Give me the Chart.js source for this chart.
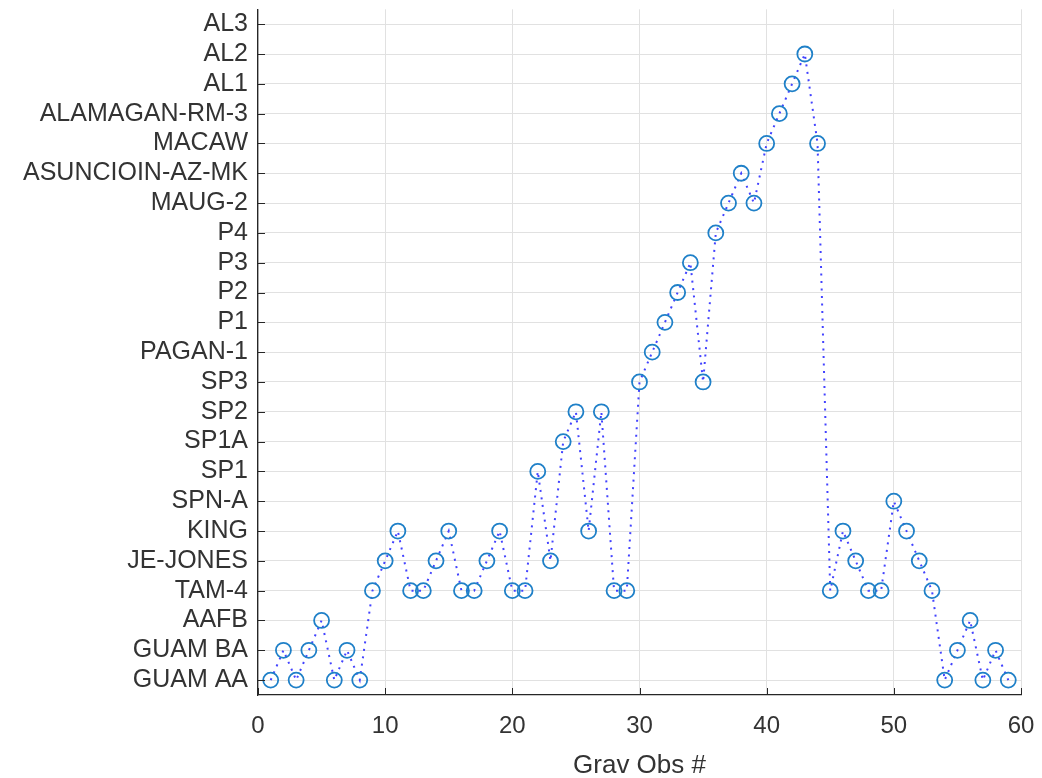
<!DOCTYPE html>
<html>
<head>
<meta charset="utf-8">
<script src="https://cdn.jsdelivr.net/npm/chart.js@4"></script>
<style>
  html, body { margin: 0; padding: 0; background: #fff; }
  #wrap { width: 1042px; height: 778px; }
</style>
</head>
<body>
<div id="wrap"><canvas id="myChart"></canvas></div>
<script>
// stations on the y axis, bottom to top
const stations = ['GUAM AA', 'GUAM BA', 'AAFB', 'TAM-4', 'JE-JONES', 'KING', 'SPN-A',
    'SP1', 'SP1A', 'SP2', 'SP3', 'PAGAN-1', 'P1', 'P2', 'P3', 'P4', 'MAUG-2',
    'ASUNCIOIN-AZ-MK', 'MACAW', 'ALAMAGAN-RM-3', 'AL1', 'AL2', 'AL3'];

// station of each gravity observation, obs # 1..59
const obsStation = [
    'GUAM AA', 'GUAM BA', 'GUAM AA', 'GUAM BA', 'AAFB', 'GUAM AA', 'GUAM BA', 'GUAM AA',
    'TAM-4', 'JE-JONES', 'KING', 'TAM-4', 'TAM-4', 'JE-JONES', 'KING', 'TAM-4',
    'TAM-4', 'JE-JONES', 'KING', 'TAM-4', 'TAM-4', 'SP1', 'JE-JONES', 'SP1A',
    'SP2', 'KING', 'SP2', 'TAM-4', 'TAM-4', 'SP3', 'PAGAN-1', 'P1',
    'P2', 'P3', 'SP3', 'P4', 'MAUG-2', 'ASUNCIOIN-AZ-MK', 'MAUG-2', 'MACAW',
    'ALAMAGAN-RM-3', 'AL1', 'AL2', 'MACAW', 'TAM-4', 'KING', 'JE-JONES', 'TAM-4',
    'TAM-4', 'SPN-A', 'KING', 'JE-JONES', 'TAM-4', 'GUAM AA', 'GUAM BA', 'AAFB',
    'GUAM AA', 'GUAM BA', 'GUAM AA'];

const xTicks = [0, 10, 20, 30, 40, 50, 60];

const points = obsStation.map((s, i) => ({ x: i + 1, y: stations.indexOf(s) }));

const axisColor = '#262626';
const labelColor = '#333333';
const gridColor = '#e1e1e1';
const fam = 'Liberation Sans, Arial, sans-serif';

// small inward tick marks like the original
const innerTicks = {
    id: 'innerTicks',
    afterDatasetsDraw(chart) {
        const c = chart.ctx, a = chart.chartArea;
        const xs = chart.scales.x, ys = chart.scales.y;
        c.save();
        c.strokeStyle = axisColor;
        c.lineWidth = 1;
        c.beginPath();
        ys.ticks.forEach(t => {
            const y = Math.round(ys.getPixelForValue(t.value)) + 0.5;
            c.moveTo(a.left, y); c.lineTo(a.left + 7, y);
        });
        xTicks.forEach(v => {
            const x = Math.round(xs.getPixelForValue(v)) + 0.5;
            c.moveTo(x, a.bottom); c.lineTo(x, a.bottom - 7);
        });
        c.stroke();
        c.restore();
    }
};

new Chart(document.getElementById('myChart'), {
    type: 'line',
    data: {
        datasets: [{
            data: points,
            borderColor: 'rgba(45,45,255,0.9)',
            borderWidth: 2,
            borderDash: [2, 5.5],
            pointRadius: 7.5,
            pointHoverRadius: 7.5,
            pointBorderWidth: 1.8,
            pointBorderColor: '#1f80c8',
            pointBackgroundColor: 'rgba(0,0,0,0)',
            tension: 0
        }]
    },
    options: {
        responsive: true,
        maintainAspectRatio: false,
        animation: false,
        layout: { padding: { top: 9, right: 21, left: 0, bottom: 0 } },
        plugins: { legend: { display: false }, tooltip: { enabled: false } },
        scales: {
            x: {
                type: 'linear',
                min: 0,
                max: 60,
                afterBuildTicks: axis => { axis.ticks = xTicks.map(v => ({ value: v })); },
                afterFit: axis => {
                    axis.height = 83;
                    axis.paddingLeft = 0;
                    axis.paddingRight = 0;
                },
                grid: { color: gridColor, drawTicks: false },
                border: { color: axisColor, width: 1.3 },
                ticks: { color: labelColor, font: { family: fam, size: 24 }, padding: 17, maxRotation: 0 },
                title: {
                    display: true,
                    text: 'Grav Obs #',
                    color: labelColor,
                    font: { family: fam, size: 26 },
                    padding: { top: 4, bottom: -3 }
                }
            },
            y: {
                type: 'linear',
                min: -0.5,
                max: 22.5,
                afterBuildTicks: axis => { axis.ticks = stations.map((s, i) => ({ value: i })); },
                afterFit: axis => {
                    axis.width = 258;
                    axis.paddingTop = 0;
                    axis.paddingBottom = 0;
                },
                grid: { color: gridColor, drawTicks: false },
                border: { color: axisColor, width: 1.3 },
                ticks: {
                    color: labelColor,
                    font: { family: fam, size: 25 },
                    padding: 10,
                    autoSkip: false,
                    callback: v => stations[v]
                }
            }
        }
    },
    plugins: [innerTicks]
});
</script>
</body>
</html>
